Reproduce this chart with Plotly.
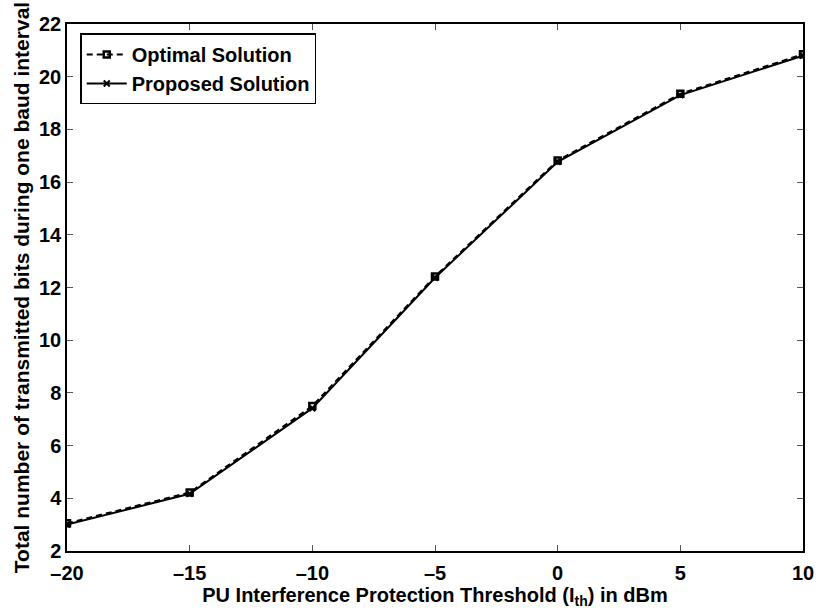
import plotly.graph_objects as go

threshold_dbm = [-20, -15, -10, -5, 0, 5, 10]
optimal_bits = [3.05, 4.22, 7.5, 12.42, 16.82, 19.35, 20.85]
proposed_bits = [3.0, 4.17, 7.42, 12.37, 16.77, 19.3, 20.8]

x_ticks = [-20, -15, -10, -5, 0, 5, 10]
y_ticks = list(range(2, 23, 2))

FONT = "Liberation Sans, Arial, Helvetica, sans-serif"

fig = go.Figure()
fig.add_trace(go.Scatter(
    x=threshold_dbm, y=optimal_bits, name="Optimal Solution",
    mode="lines+markers",
    line=dict(color="black", width=2, dash="6px,4px"),
    marker=dict(symbol="square-open", size=6, color="black", line=dict(width=2.5, color="black")),
))
fig.add_trace(go.Scatter(
    x=threshold_dbm, y=proposed_bits, name="Proposed Solution",
    mode="lines+markers",
    line=dict(color="black", width=2),
    marker=dict(symbol="x-thin-open", size=6, color="black", line=dict(width=2, color="black")),
))

fig.update_layout(
    width=826, height=613,
    margin=dict(l=67, r=14, t=24, b=62),
    paper_bgcolor="white", plot_bgcolor="white",
    font=dict(family=FONT, size=20, color="black"),
    showlegend=True,
    legend=dict(
        x=0.018, y=0.982, xanchor="left", yanchor="top",
        bgcolor="white", bordercolor="black", borderwidth=1.5,
        font=dict(family=FONT, size=20, color="black", weight="bold"),
        tracegroupgap=0, itemwidth=40,
    ),
)
fig.update_xaxes(
    range=[-20, 10], tickvals=x_ticks, ticktext=["–20", "–15", "–10", "–5", "0", "5", "10"],
    showgrid=False, zeroline=False,
    showline=True, linecolor="black", linewidth=1.5, mirror="ticks",
    ticks="inside", ticklen=6, tickcolor="#555", tickwidth=1,
    tickfont=dict(family=FONT, size=20, weight="bold"), ticklabelstandoff=3,
    title=dict(text="<b>PU Interference Protection Threshold (I<sub>th</sub>) in dBm</b>",
               font=dict(family=FONT, size=20), standoff=0),
)
fig.update_yaxes(
    range=[2, 22], tickvals=y_ticks,
    showgrid=False, zeroline=False,
    showline=True, linecolor="black", linewidth=1.5, mirror="ticks",
    ticks="inside", ticklen=6, tickcolor="#555", tickwidth=1,
    tickfont=dict(family=FONT, size=20, weight="bold"),
    title=dict(text="<b>Total number of transmitted bits during one baud interval</b>",
               font=dict(family=FONT, size=21), standoff=4),
)

fig.write_html("out.html")
